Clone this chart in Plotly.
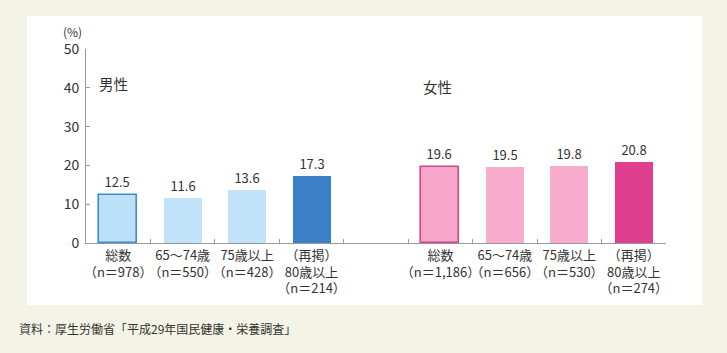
import plotly.graph_objects as go

# ---- data ----
male_labels = ["総数<br>（n＝978）", "65〜74歳<br>（n＝550）", "75歳以上<br>（n＝428）", "（再掲）<br>80歳以上<br>（n＝214）"]
male_values = [12.5, 11.6, 13.6, 17.3]
female_labels = ["総数<br>（n＝1,186）", "65〜74歳<br>（n＝656）", "75歳以上<br>（n＝530）", "（再掲）<br>80歳以上<br>（n＝274）"]
female_values = [19.6, 19.5, 19.8, 20.8]
gap_label = " "
y_ticks = [0, 10, 20, 30, 40, 50]

male_fill = ["#bde0f9", "#c2e2f9", "#c2e2f9", "#3b80c6"]
male_line = ["#3d8ad6", "#c2e2f9", "#c2e2f9", "#3b80c6"]
female_fill = ["#f6a6c9", "#f7abcd", "#f7abcd", "#e03f8f"]
female_line = ["#d2468f", "#f7abcd", "#f7abcd", "#e03f8f"]
line_w = [1.6, 0, 0, 0]

W, H = 727, 353
L, R, T, B = 86, 666, 49, 243

def px(x):
    return (x - L) / (R - L)

def py(y):
    return (B - y) / (B - T)

font = "Noto Sans CJK JP, Noto Sans, sans-serif"
txtc = "#333333"

fig = go.Figure()
fig.add_trace(go.Bar(
    x=male_labels, y=male_values, width=0.59,
    marker=dict(color=male_fill, line=dict(color=male_line, width=line_w)),
    text=[f"{v:.1f}" for v in male_values], textposition="outside",
    textfont=dict(size=13, color=txtc, family=font), cliponaxis=False,
    showlegend=False,
))
fig.add_trace(go.Bar(
    x=female_labels, y=female_values, width=0.59,
    marker=dict(color=female_fill, line=dict(color=female_line, width=line_w)),
    text=[f"{v:.1f}" for v in female_values], textposition="outside",
    textfont=dict(size=13, color=txtc, family=font), cliponaxis=False,
    showlegend=False,
))

cats = male_labels + [gap_label] + female_labels

def ann(text, x, y, size, xanchor="left"):
    return dict(text=text, xref="paper", yref="paper", x=px(x), y=py(y),
                xanchor=xanchor, yanchor="middle", showarrow=False,
                font=dict(size=size, color=txtc, family=font))

fig.update_layout(
    width=W, height=H,
    margin=dict(l=L, r=W - R, t=T, b=H - B),
    paper_bgcolor="#f4f4e6", plot_bgcolor="rgba(0,0,0,0)",
    barmode="group", bargap=0,
    font=dict(family=font, color=txtc, size=13),
    xaxis=dict(
        type="category", categoryorder="array", categoryarray=cats,
        range=[-0.5, 8.5], tickson="boundaries", ticks="inside", ticklen=4,
        tickcolor="#999999", showline=True, linecolor="#999999", linewidth=1,
        showgrid=False, tickangle=0,
        tickfont=dict(size=13, color=txtc, family=font),
        fixedrange=True,
    ),
    yaxis=dict(
        range=[0, 50], tickvals=y_ticks, ticks="inside", ticklen=4,
        tickcolor="#999999", showline=True, linecolor="#999999", linewidth=1,
        showgrid=False, zeroline=False, ticklabelstandoff=3,
        tickfont=dict(size=14, color=txtc, family=font),
        fixedrange=True,
    ),
    shapes=[dict(type="rect", xref="paper", yref="paper",
                 x0=px(27), x1=px(702), y0=py(305), y1=py(16),
                 fillcolor="white", line=dict(width=0), layer="below")],
    annotations=[
        ann("(%)", 72, 31, 12, xanchor="center"),
        ann("男性", 97, 83, 14.5),
        ann("女性", 421, 86, 14.5),
        ann("資料：厚生労働省「平成29年国民健康・栄養調査」", 17, 328, 12),
    ],
)

fig.write_html("out.html")
